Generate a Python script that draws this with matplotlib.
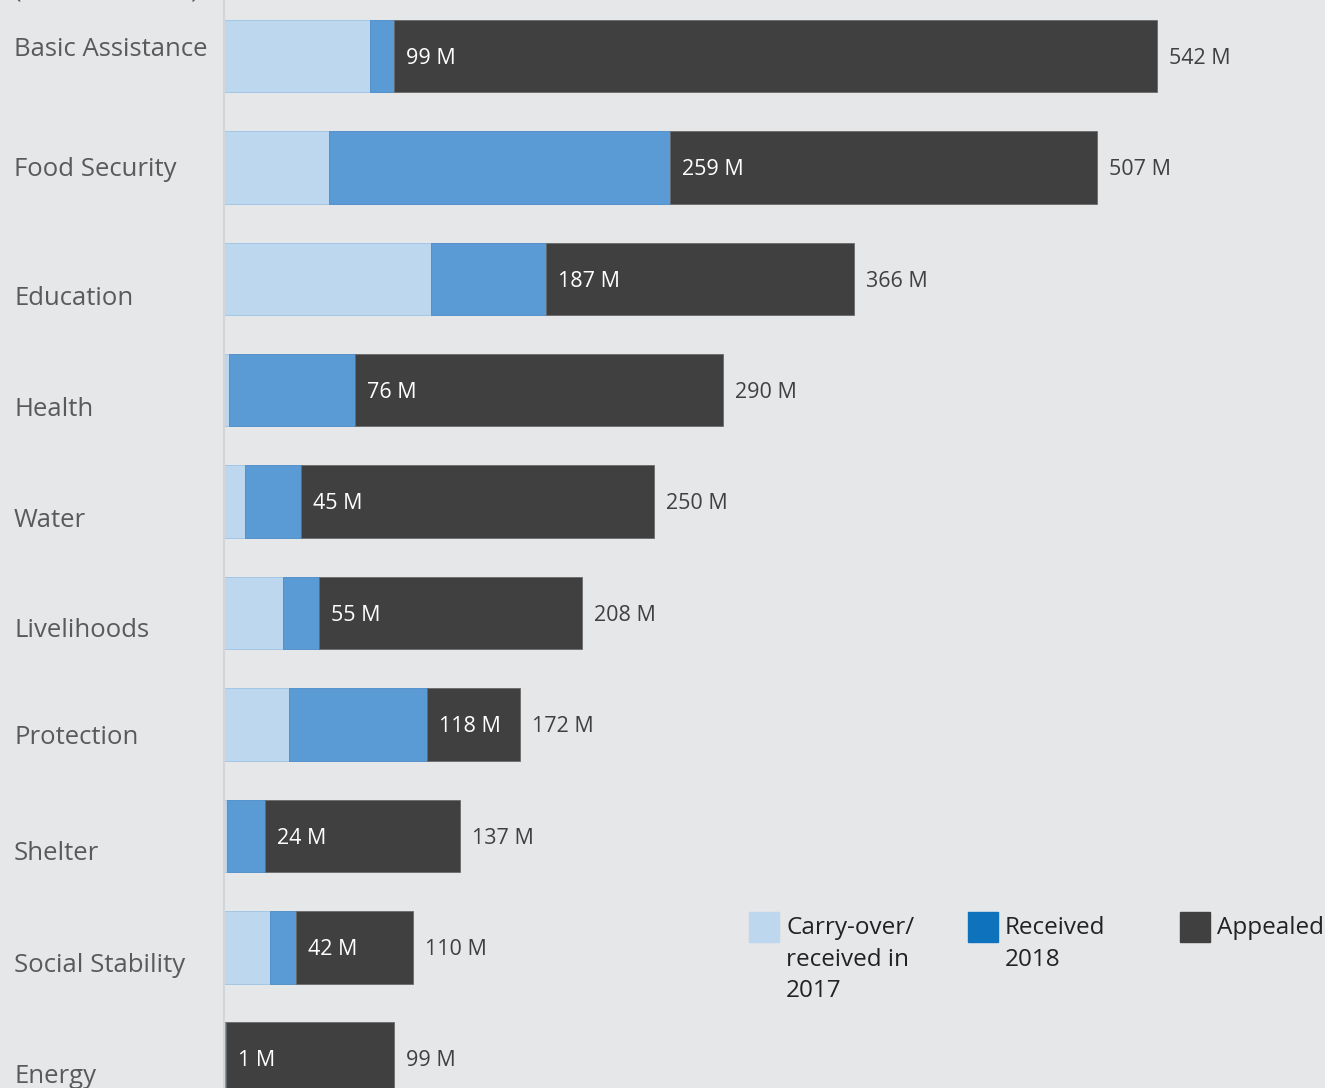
import matplotlib.pyplot as plt
from matplotlib.patches import Rectangle

plt.rcParams['font.family'] = ['Open Sans', 'DejaVu Sans']

sectors = ["Basic Assistance", "Food Security", "Education", "Health", "Water",
           "Livelihoods", "Protection", "Shelter", "Social Stability", "Energy"]
carry_over = [85, 61, 120, 3, 12, 34, 38, 2, 27, 0]
received_total = [99, 259, 187, 76, 45, 55, 118, 24, 42, 1]
appealed = [542, 507, 366, 290, 250, 208, 172, 137, 110, 99]

# small vertical nudges of the sector names (row units), as in the original
label_shift = [-0.06, 0.02, 0.18, 0.17, 0.17, 0.16, 0.12, 0.16, 0.16, 0.16]

bg = "#e6e7e9"
c_light = "#bdd7ee"
c_mid = "#5b9bd5"
c_dark = "#404040"
c_legend_mid = "#0f72bc"

W, H = 1325, 1088
fig = plt.figure(figsize=(W / 100, H / 100), dpi=100, facecolor=bg)
ax = fig.add_axes([224 / W, 0, 1101 / W, 1])
ax.set_facecolor(bg)

y = range(len(sectors))
h = 0.65
received_2018 = [r - c for r, c in zip(received_total, carry_over)]
rest = [a - r for a, r in zip(appealed, received_total)]

ax.barh(y, carry_over, height=h, color=c_light, edgecolor="#9cc3e6", linewidth=0.6)
ax.barh(y, received_2018, left=carry_over, height=h, color=c_mid,
        edgecolor="#4a8bc8", linewidth=0.6)
ax.barh(y, rest, left=received_total, height=h, color=c_dark,
        edgecolor="#6a6a6a", linewidth=0.6)

px = 1101 / 639.6  # pixels per M
for i, s in enumerate(sectors):
    ax.text(received_total[i] + 12 / px, i + 0.02, f"{received_total[i]} M",
            color="white", fontsize=15.5, va="center", ha="left")
    ax.text(appealed[i] + 12 / px, i + 0.02, f"{appealed[i]} M",
            color="#404040", fontsize=15.5, va="center", ha="left")
    ax.text(-210 / px, i + label_shift[i], s, color="#5a5a5a", fontsize=18.5,
            va="center", ha="left", clip_on=False)

ax.set_xlim(0, 639.6)
ax.set_ylim(9.263, -0.503)
ax.set_xticks([])
ax.set_yticks([])
for side in ["top", "right", "bottom"]:
    ax.spines[side].set_visible(False)
ax.spines["left"].set_color("#d4d5d8")
ax.spines["left"].set_linewidth(1.5)

# unit note, cut off by the top edge as in the original
fig.text(14 / W, 1 + 10 / H, "(in million USD)", color="#5a5a5a", fontsize=18.5,
         va="center", ha="left")

# legend
legend_items = [(749, c_light, "Carry-over/\nreceived in\n2017"),
                (968, c_legend_mid, "Received\n2018"),
                (1180, c_dark, "Appealed")]
for x0, col, txt in legend_items:
    fig.patches.append(Rectangle((x0 / W, 1 - 942 / H), 30 / W, 30 / H,
                                 transform=fig.transFigure, color=col))
    fig.text((x0 + 37) / W, 1 - 916 / H, txt, color="#222222", fontsize=17.5,
             va="top", ha="left", linespacing=1.42)

fig.savefig("out.png", dpi=100, facecolor=bg)
